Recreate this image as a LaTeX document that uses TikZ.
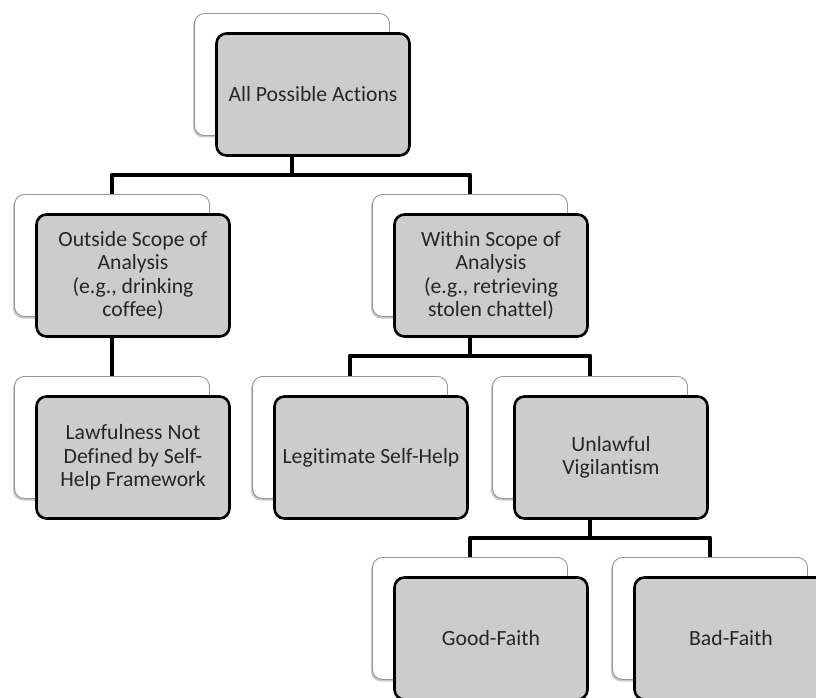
\documentclass[tikz,border=0pt]{standalone}
\usepackage{fontspec}
\setmainfont[Ligatures={NoCommon,NoDiscretionary,NoContextual}]{Carlito}
\usetikzlibrary{calc,shadows}
\definecolor{boxgray}{RGB}{204,204,204}
\definecolor{textgray}{RGB}{38,38,38}
\definecolor{backline}{RGB}{150,150,150}
\tikzset{
  backbox/.style={draw=backline, line width=0.9pt, fill=white, rounded corners=10pt,
    minimum width=195pt, minimum height=122pt, inner sep=0pt,
    drop shadow={shadow xshift=-1.5pt, shadow yshift=-2pt, fill=black, opacity=0.22}},
  frontbox/.style={draw=black, line width=2.6pt, fill=boxgray, rounded corners=10pt,
    minimum width=193pt, minimum height=122pt, inner sep=2pt, align=center,
    text=textgray, font=\fontsize{21.7}{23.3}\selectfont},
  conn/.style={draw=black, line width=4.5pt, line join=round}
}
\newcommand\stackbox[3]{%
  \node[backbox] (#1w) at ($(#2)+(-21,-20)$) {};
  \node[frontbox] (#1g) at (#2) {#3};
}
\begin{document}
\begin{tikzpicture}[x=1pt,y=-1pt]
\useasboundingbox (0,0) rectangle (816,698);
\clip (0,0) rectangle (816,698);
\stackbox{root}{313,94.5}{All Possible Actions}
\stackbox{out}{133,275.5}{Outside Scope of\\Analysis\\(e.g., drinking\\coffee)}
\stackbox{with}{491,275.5}{Within Scope of\\Analysis\\(e.g., retrieving\\stolen chattel)}
\stackbox{law}{133,457.5}{Lawfulness Not\\Defined by Self-\\Help Framework}
\stackbox{legit}{371,457.5}{Legitimate Self-Help}
\stackbox{unl}{611,457.5}{Unlawful\\Vigilantism}
\stackbox{good}{491,638.5}{Good-Faith}
\stackbox{bad}{731,638.5}{Bad-Faith}
% connectors
\draw[conn] (rootg.south -| rootw.south) -- ++(0,18) coordinate (j1);
\draw[conn] (j1) -| (outw.north);
\draw[conn] (j1) -| (withw.north);
\draw[conn] (outg.south -| outw.south) -- (laww.north);
\draw[conn] (withg.south -| withw.south) -- ++(0,18) coordinate (j2);
\draw[conn] (j2) -| (legitw.north);
\draw[conn] (j2) -| (unlw.north);
\draw[conn] (unlg.south -| unlw.south) -- ++(0,18) coordinate (j3);
\draw[conn] (j3) -| (goodw.north);
\draw[conn] (j3) -| (badw.north);
\end{tikzpicture}
\end{document}
